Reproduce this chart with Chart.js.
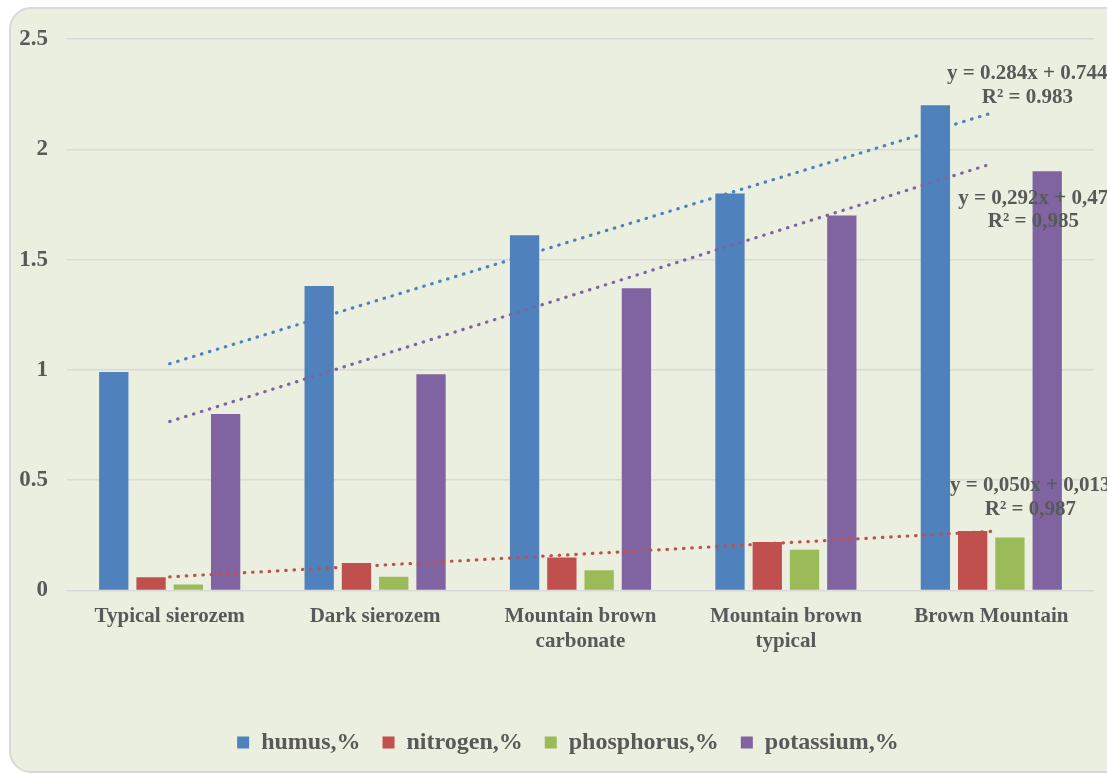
<!DOCTYPE html>
<html>
<head>
<meta charset="utf-8">
<script src="https://cdn.jsdelivr.net/npm/chart.js@4"></script>
<style>
  html, body { margin: 0; padding: 0; background: #ffffff; overflow: hidden; }
  #frame {
    position: absolute; left: 9px; top: 7px; width: 1120px; height: 762px;
    background: #ebefdf; border: 2px solid #d9d9d9; border-radius: 22px;
  }
  #myChart { position: absolute; left: 0; top: 0; }
</style>
</head>
<body>
<div id="frame"></div>
<canvas id="myChart" width="1107" height="773"></canvas>
<script>
// soil types on the x axis
const labels = [
    'Typical sierozem',
    'Dark sierozem',
    ['Mountain brown', 'carbonate'],
    ['Mountain brown', 'typical'],
    'Brown Mountain'
];

// values
const humus = [0.99, 1.38, 1.61, 1.80, 2.20];
const nitrogen = [0.06, 0.125, 0.15, 0.22, 0.27];
const phosphorus = [0.027, 0.062, 0.092, 0.185, 0.24];
const potassium = [0.80, 0.98, 1.37, 1.70, 1.90];

// trendline equations as printed on the chart
const trendText = {
    humus: ['y = 0.284x + 0.744', 'R² = 0.983'],
    potassium: ['y = 0,292x + 0,47', 'R² = 0,985'],
    nitrogen: ['y = 0,050x + 0,013', 'R² = 0,987']
};

const blue = '#4f81bd', red = '#c0504d', green = '#9bbb59', purple = '#8064a2';
const grey = '#595959';
const serif = '"Liberation Serif", "Times New Roman", serif';

// least squares line over x = 1..n
function linearFit(arr) {
    const n = arr.length;
    let sx = 0, sy = 0, sxy = 0, sxx = 0;
    arr.forEach((v, i) => { const x = i + 1; sx += x; sy += v; sxy += x * v; sxx += x * x; });
    const slope = (n * sxy - sx * sy) / (n * sxx - sx * sx);
    const icpt = (sy - slope * sx) / n;
    return arr.map((v, i) => slope * (i + 1) + icpt);
}

function bar(label, values, color) {
    return {
        type: 'bar', label: label, data: values, backgroundColor: color,
        order: 2, categoryPercentage: 0.726, barPercentage: 0.786
    };
}

function trend(values, color, key) {
    return {
        type: 'line', label: 'trend_' + key, data: linearFit(values),
        borderColor: color, borderWidth: 3.2, borderDash: [0.5, 7.8],
        borderCapStyle: 'round', pointRadius: 0, fill: false, order: 1,
        trendKey: key
    };
}

// where each equation sits, relative to the end of its trendline
const notePos = {
    humus: { dx: 36, dy: -34 },
    potassium: { dx: 42, dy: 40 },
    nitrogen: { dx: 39, dy: -40 }
};

const trendNotes = {
    id: 'trendNotes',
    afterDatasetsDraw(chart) {
        const ctx = chart.ctx;
        ctx.save();
        ctx.font = 'bold 21px ' + serif;
        ctx.fillStyle = grey;
        ctx.textAlign = 'center';
        ctx.textBaseline = 'alphabetic';
        chart.data.datasets.forEach((ds, i) => {
            if (!ds.trendKey) return;
            const meta = chart.getDatasetMeta(i);
            const last = meta.data[meta.data.length - 1];
            const p = notePos[ds.trendKey];
            const lines = trendText[ds.trendKey];
            ctx.fillText(lines[0], last.x + p.dx, last.y + p.dy);
            ctx.fillText(lines[1], last.x + p.dx, last.y + p.dy + 23.5);
        });
        ctx.restore();
    }
};

// the legend sits a little right of the canvas centre
const legendShift = {
    id: 'legendShift',
    afterLayout(chart) {
        chart.legend.left += 21;
        chart.legend.right += 21;
    }
};

const data = {
    labels: labels,
    datasets: [
        bar('humus,%', humus, blue),
        bar('nitrogen,%', nitrogen, red),
        bar('phosphorus,%', phosphorus, green),
        bar('potassium,%', potassium, purple),
        trend(humus, blue, 'humus'),
        trend(potassium, purple, 'potassium'),
        trend(nitrogen, red, 'nitrogen')
    ]
};

const config = {
    type: 'bar',
    data: data,
    plugins: [trendNotes, legendShift],
    options: {
        responsive: false,
        animation: false,
        layout: { padding: { top: 39, right: 13, bottom: 8.5, left: 0 } },
        plugins: {
            tooltip: { enabled: false },
            legend: {
                position: 'bottom',
                labels: {
                    filter: item => !item.text.startsWith('trend_'),
                    boxWidth: 12, boxHeight: 12, padding: 22,
                    color: grey,
                    font: { family: serif, size: 24, weight: 'bold' }
                }
            }
        },
        scales: {
            x: {
                grid: { display: false, drawTicks: false },
                border: { display: false },
                ticks: {
                    color: grey, padding: 13, maxRotation: 0, autoSkip: false,
                    font: { family: serif, size: 21, weight: 'bold' }
                },
                afterFit: s => { s.height = 118; }
            },
            y: {
                min: 0, max: 2.5,
                grid: { color: '#d9d9d9', lineWidth: 1.5, drawTicks: false },
                border: { display: false },
                ticks: {
                    stepSize: 0.5, color: grey, padding: 19,
                    callback: v => String(v),
                    font: { family: serif, size: 23, weight: 'bold' }
                },
                afterFit: s => { s.width = 67; }
            }
        }
    }
};

const myChart = new Chart(document.getElementById('myChart'), config);
</script>
</body>
</html>
